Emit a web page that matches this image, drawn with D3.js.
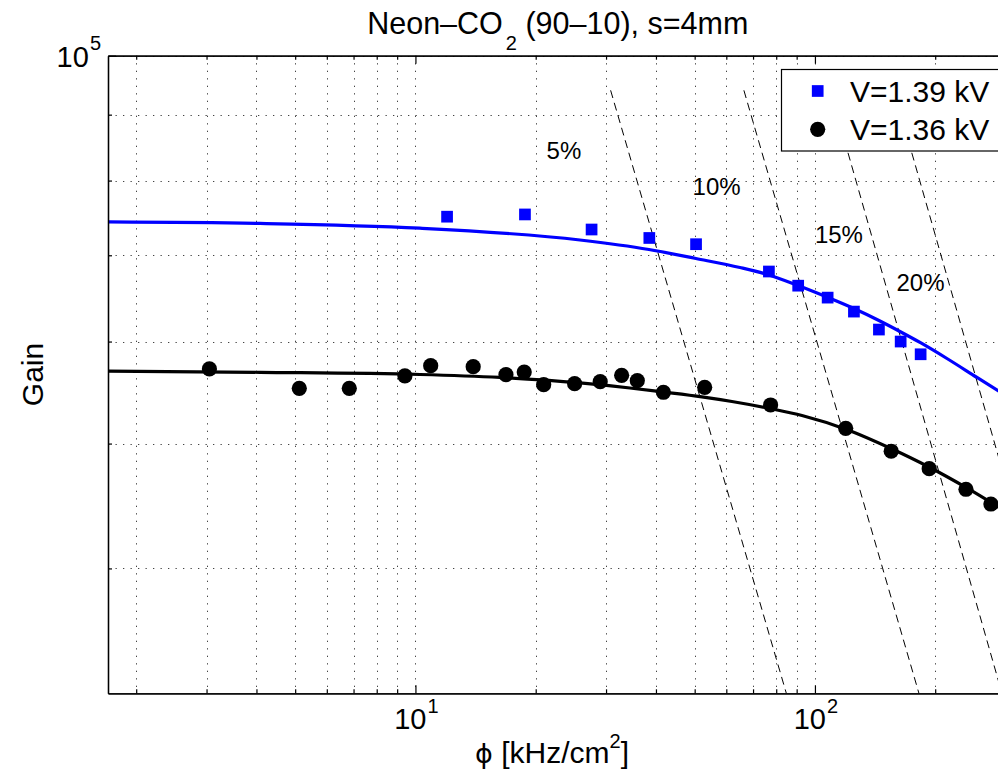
<!DOCTYPE html>
<html><head><meta charset="utf-8">
<script src="https://cdn.jsdelivr.net/npm/d3@7"></script>
<style>
body{margin:0;background:#fff}
svg{display:block}
text{font-family:"Liberation Sans",Arial,Helvetica,sans-serif;fill:#000}
</style>
</head><body>
<svg id="c" width="998" height="773"></svg>
<script>
// ---------------- data ----------------
const blueX = [12.0, 18.8, 27.6, 38.5, 50.4, 76.7, 90.8, 107.6, 125.2, 144.6, 163.9, 183.9];
const blueY = [75000, 75300, 73300, 72200, 71400, 68000, 66300, 64900, 63300, 61300, 60000, 58650];
const blackX = [3.05, 5.12, 6.83, 9.41, 10.92, 13.95, 16.85, 18.72, 20.94, 25.03, 29.01, 32.82, 35.92, 41.76, 52.97, 77.45, 119.4, 155.2, 193.2, 238.8, 275.7];
const blackY = [57130, 55190, 55190, 56420, 57470, 57370, 56550, 56820, 55550, 55650, 55850, 56490, 55950, 54800, 55290, 53570, 51380, 49320, 47810, 46080, 44880];
const blueFitX = [1.7, 4.08, 10.26, 25.81, 38.42, 50.36, 64.9, 76.7, 90.7, 107.8, 125.2, 144.6, 163.2, 184.2, 214.0, 254.4, 300];
const blueFitY = [74300, 74100, 73470, 71940, 70730, 69600, 68490, 67580, 66320, 64920, 63650, 62300, 61090, 59850, 58210, 56270, 54490];
const blackFitX = [1.7, 4.08, 10.26, 16.28, 25.81, 34.43, 41.65, 52.13, 61.98, 78.05, 92.8, 120.9, 155.0, 192.9, 238.8, 300];
const blackFitY = [56920, 56790, 56570, 56270, 55720, 55220, 54830, 54350, 53900, 53190, 52570, 51230, 49560, 47950, 46230, 44290];

const dropLabels = ["5%", "10%", "15%", "20%"];
const dropTopX = [30.8, 66.4, 109.2, 157.7];
const dropBottomX = [84.8, 182.1, 293.9, 424.9];
const dropTopY = [94000, 94000, 94000, 94000];
const dropBottomY = [32000, 32000, 32000, 32000];
const dropLabelX = [21.3, 49.4, 100, 160];
const dropLabelY = [84400, 79100, 72700, 66700];

const seriesNames = ["V=1.39 kV", "V=1.36 kV"];
const xMajorTicks = [10, 100];
const xMajorExp = ["1", "2"];
const xMinorTicks = [2, 3, 4, 5, 6, 7, 8, 9, 20, 30, 40, 50, 60, 70, 80, 90, 200, 300];
const yMajorTicks = [100000];
const yMajorExp = ["5"];
const yMinorTicks = [40000, 50000, 60000, 70000, 80000, 90000];
const xDomain = [1.7, 300];
const yDomain = [32000, 100000];
const titleMain = "Neon\u2013CO", titleSub = "2", titleRest = " (90\u201310), s=4mm";
const xLabelPhi = "\u03d5", xLabelMain = " [kHz/cm", xLabelSup = "2", xLabelEnd = "]";
const yLabel = "Gain";

// ---------------- layout ----------------
(function () {
const svg = d3.select("#c");
const pL = 108, pT = 55.7, pB = 693.3;
const pxPerDecade = 399.5;
const pR = pL + pxPerDecade * Math.log10(xDomain[1] / xDomain[0]);

const x = d3.scaleLog().domain(xDomain).range([pL, pR]);
const y = d3.scaleLog().domain(yDomain).range([pB, pT]);

svg.append("defs").append("clipPath").attr("id", "plotclip")
  .append("rect").attr("x", pL).attr("y", pT).attr("width", pR - pL).attr("height", pB - pT);

const plot = svg.append("g").attr("clip-path", "url(#plotclip)");

// grid
const gridStyle = g => g.attr("stroke", "#444").attr("stroke-width", 1).attr("stroke-dasharray", "1.3,6.2").attr("fill", "none");
const allX = xMinorTicks.concat(xMajorTicks);
plot.append("g").call(gridStyle).selectAll("line").data(allX).join("line")
  .attr("x1", d => Math.round(x(d)) + 0.5).attr("x2", d => Math.round(x(d)) + 0.5)
  .attr("y1", pT).attr("y2", pB);
const allY = yMinorTicks.concat(yMajorTicks);
plot.append("g").call(gridStyle).selectAll("line").data(allY).join("line")
  .attr("y1", d => Math.round(y(d)) + 0.5).attr("y2", d => Math.round(y(d)) + 0.5)
  .attr("x1", pL).attr("x2", pR);

// dashed constant-drop lines
plot.append("g").selectAll("line").data(dropLabels).join("line")
  .attr("x1", (d, i) => x(dropTopX[i])).attr("y1", (d, i) => y(dropTopY[i]))
  .attr("x2", (d, i) => x(dropBottomX[i])).attr("y2", (d, i) => y(dropBottomY[i]))
  .attr("stroke", "#000").attr("stroke-width", 1).attr("stroke-dasharray", "8,5");

// labels of drop lines
plot.append("g").selectAll("text").data(dropLabels).join("text")
  .attr("x", (d, i) => x(dropLabelX[i])).attr("y", (d, i) => y(dropLabelY[i]) + 8.5)
  .attr("font-size", 24).text(d => d);

// fit curves
const line = d3.line().x(d => x(d[0])).y(d => y(d[1])).curve(d3.curveMonotoneX);
plot.append("path").datum(blueFitX.map((v, i) => [v, blueFitY[i]])).attr("d", line)
  .attr("fill", "none").attr("stroke", "#0000ff").attr("stroke-width", 3.2);
plot.append("path").datum(blackFitX.map((v, i) => [v, blackFitY[i]])).attr("d", line)
  .attr("fill", "none").attr("stroke", "#000").attr("stroke-width", 3.2);

// markers
const sq = 11.7;
plot.append("g").selectAll("rect").data(blueX).join("rect")
  .attr("x", (d) => x(d) - sq / 2).attr("y", (d, i) => y(blueY[i]) - sq / 2)
  .attr("width", sq).attr("height", sq).attr("fill", "#0000ff");
plot.append("g").selectAll("circle").data(blackX).join("circle")
  .attr("cx", d => x(d)).attr("cy", (d, i) => y(blackY[i])).attr("r", 7.6).attr("fill", "#000");

// axes
const axisStyle = g => {
  g.select(".domain").attr("stroke", "#000").attr("stroke-width", 1.3);
  g.selectAll(".tick line").attr("stroke", "#000").attr("stroke-width", 1.2);
  g.selectAll(".tick text").remove();
};
svg.append("g").attr("transform", `translate(0,${pB})`)
  .call(d3.axisBottom(x).tickValues(xMinorTicks).tickSizeInner(-4).tickSizeOuter(0).tickFormat(""))
  .call(axisStyle);
svg.append("g").attr("transform", `translate(0,${pB})`)
  .call(d3.axisBottom(x).tickValues(xMajorTicks).tickSizeInner(-8).tickSizeOuter(0).tickFormat(""))
  .call(axisStyle);
svg.append("g").attr("transform", `translate(0,${pT})`)
  .call(d3.axisTop(x).tickValues(xMinorTicks).tickSizeInner(-4).tickSizeOuter(0).tickFormat(""))
  .call(axisStyle);
svg.append("g").attr("transform", `translate(0,${pT})`)
  .call(d3.axisTop(x).tickValues(xMajorTicks).tickSizeInner(-8).tickSizeOuter(0).tickFormat(""))
  .call(axisStyle);
svg.append("g").attr("transform", `translate(${pL},0)`)
  .call(d3.axisLeft(y).tickValues(yMinorTicks).tickSizeInner(-4).tickSizeOuter(0).tickFormat(""))
  .call(axisStyle);
svg.append("g").attr("transform", `translate(${pL},0)`)
  .call(d3.axisLeft(y).tickValues(yMajorTicks).tickSizeInner(-8).tickSizeOuter(0).tickFormat(""))
  .call(axisStyle);

// tick labels with superscripts
xMajorTicks.forEach((v, i) => {
  const t = svg.append("text").attr("x", x(v) + 1).attr("y", 729)
    .attr("text-anchor", "middle").attr("font-size", 29);
  t.append("tspan").text("10");
  t.append("tspan").attr("dx", 1).attr("dy", -16).attr("font-size", 20).text(xMajorExp[i]);
});
yMajorTicks.forEach((v, i) => {
  const t = svg.append("text").attr("x", pL - 7).attr("y", y(v) + 11)
    .attr("text-anchor", "end").attr("font-size", 29);
  t.append("tspan").text("10");
  t.append("tspan").attr("dx", 1).attr("dy", -16.5).attr("font-size", 20).text(yMajorExp[i]);
});

// title
const tt = svg.append("text").attr("x", (pL + pR) / 2 + 1).attr("y", 33.5)
  .attr("text-anchor", "middle").attr("font-size", 30.5);
tt.append("tspan").text(titleMain);
tt.append("tspan").attr("dx", 3).attr("dy", 16.5).attr("font-size", 20).text(titleSub);
tt.append("tspan").attr("dy", -16.5).text(titleRest);

// axis labels
const xl = svg.append("text").attr("x", 552).attr("y", 763)
  .attr("text-anchor", "middle").attr("font-size", 30);
xl.append("tspan").attr("font-family", "DejaVu Sans").attr("font-size", 27).text(xLabelPhi);
xl.append("tspan").text(xLabelMain);
xl.append("tspan").attr("dy", -15).attr("font-size", 20).text(xLabelSup);
xl.append("tspan").attr("dy", 15).text(xLabelEnd);
svg.append("text").attr("transform", `translate(43,${(pT + pB) / 2}) rotate(-90)`)
  .attr("text-anchor", "middle").attr("font-size", 30).text(yLabel);

// legend
const lg = svg.append("g");
lg.append("rect").attr("x", 781.5).attr("y", 69.5).attr("width", 226).attr("height", 81.5)
  .attr("fill", "#fff").attr("stroke", "#000").attr("stroke-width", 1.2);
const legY = [91, 129.3];
lg.append("rect").attr("x", 817.7 - sq / 2).attr("y", legY[0] - sq / 2).attr("width", sq).attr("height", sq).attr("fill", "#0000ff");
lg.append("circle").attr("cx", 817.7).attr("cy", legY[1]).attr("r", 7.6).attr("fill", "#000");
lg.selectAll("text.leg").data(seriesNames).join("text").attr("class", "leg")
  .attr("x", 850).attr("y", (d, i) => legY[i] + 10.8).attr("font-size", 30).text(d => d);
})();
</script>
</body></html>
